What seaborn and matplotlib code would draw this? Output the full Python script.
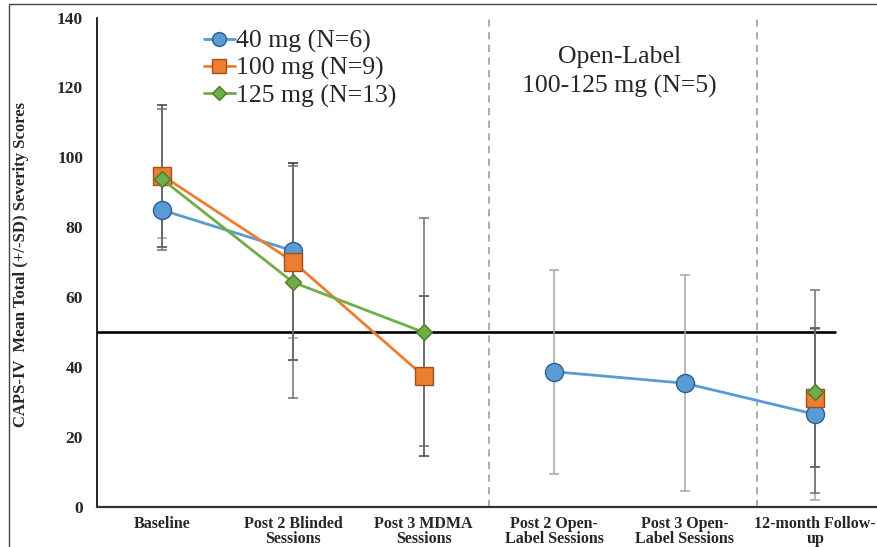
import numpy as np
import pandas as pd
import matplotlib
matplotlib.use("Agg")
import matplotlib.pyplot as plt
from matplotlib.lines import Line2D
from matplotlib.patches import Rectangle
import seaborn as sns

# Visits along the x axis
visits = ["Baseline", "Post 2 Blinded\nSessions", "Post 3 MDMA\nSessions",
          "Post 2 Open-\nLabel Sessions", "Post 3 Open-\nLabel Sessions",
          "12-month Follow-\nup"]

# CAPS-IV means and SDs per dose group (nan = not measured)
mean_40 = [84.9, 73.3, np.nan, 38.7, 35.4, 26.5]
sd_40 = [8.0, 25.0, np.nan, 29.2, 30.9, 24.5]
mean_100 = [94.8, 70.2, 37.5, np.nan, np.nan, 31.3]
sd_100 = [20.3, 28.2, 22.8, np.nan, np.nan, 20.0]
mean_125 = [93.7, 64.3, 50.0, np.nan, np.nan, 33.0]
sd_125 = [20.2, 33.2, 32.6, np.nan, np.nan, 29.0]

dose_labels = ["40 mg (N=6)", "100 mg (N=9)", "125 mg (N=13)"]
threshold = 50
open_label_text = "Open-Label\n100-125 mg (N=5)"

# styles
colors = ["#5b9bd5", "#ed7d31", "#70ad47"]
edges = ["#2f5f8f", "#a0501c", "#4a7a2c"]
err_colors = ["#a6a6a6", "#404040", "#707070"]
markers = ["o", "s", "D"]
msizes = [13, 13, 8.5]
leg_msizes = [10, 9.5, 7]

sns.set_style("white")
plt.rcParams["font.family"] = ["Liberation Serif", "DejaVu Serif"]

rows = []
for lab, means, sds in zip(dose_labels, [mean_40, mean_100, mean_125], [sd_40, sd_100, sd_125]):
    seg = 0
    for i, (m, s) in enumerate(zip(means, sds)):
        if np.isnan(m):
            seg += 1
            continue
        rows.append({"dose": lab, "x": i, "score": m, "sd": s, "seg": seg})
df = pd.DataFrame(rows)

fig = plt.figure(figsize=(8.78, 5.47), dpi=100)
ax = fig.add_axes([97 / 878, 40 / 547, 781 / 878, 489.5 / 547])

# dashed separators
for xv in [2.5, 4.55]:
    ax.axvline(xv, color="#a6a6a6", linestyle=(0, (4, 3)), lw=1.3, zorder=1)

# threshold line
ax.axhline(threshold, xmin=0, xmax=0.945, color="black", lw=1.9, zorder=2)

for k, lab in enumerate(dose_labels):
    d = df[df["dose"] == lab]
    ax.errorbar(d["x"], d["score"], yerr=d["sd"], fmt="none", ecolor=err_colors[k],
                elinewidth=1.1, capsize=3.6, capthick=1.1, zorder=2.5)
    sns.lineplot(data=d, x="x", y="score", units="seg", estimator=None, ax=ax,
                 color=colors[k], marker=markers[k], markersize=msizes[k],
                 markeredgecolor=edges[k], markeredgewidth=1.0, linewidth=2,
                 legend=False, zorder=3)

ax.set_xlim(-0.5, 5.48)
ax.set_ylim(0, 140)
ax.set_yticks(np.arange(0, 141, 20))
ax.set_xticks(range(len(visits)))
ax.set_xticklabels(visits, fontweight="bold", fontsize=11.5, linespacing=0.9)
for t in ax.get_yticklabels():
    t.set_fontweight("bold")
    t.set_fontsize(12.5)
ax.tick_params(axis="both", length=0)
ax.tick_params(axis="y", pad=10)
ax.tick_params(axis="x", pad=6.5)
ax.set_xlabel("")
ax.set_ylabel("CAPS-IV  Mean Total (+/-SD) Severity Scores", fontsize=12,
              fontweight="bold")
ax.yaxis.set_label_coords(-0.087, 0.495)

for side in ["top", "right"]:
    ax.spines[side].set_visible(False)
ax.spines["left"].set_color("black")
ax.spines["left"].set_linewidth(1.2)
ax.spines["bottom"].set_color("#333333")
ax.spines["bottom"].set_linewidth(1.6)

ax.text(3.5, 124.4, open_label_text, ha="center", va="center", fontsize=18.5,
        linespacing=1.43)

handles = [Line2D([], [], color=colors[k], marker=markers[k], markersize=leg_msizes[k],
                  markeredgecolor=edges[k], markeredgewidth=1.0, lw=2)
           for k in range(3)]
ax.legend(handles, dose_labels, loc="upper left", bbox_to_anchor=(0.137, 0.975),
          frameon=False, fontsize=18.5, handlelength=1.2, handletextpad=0.05,
          labelspacing=0.15, borderpad=0, borderaxespad=0)

# thin frame around the picture (left and top edges visible)
fig.add_artist(Rectangle((8.5 / 878, -0.05), 1.2, 1.05 - 4 / 547, transform=fig.transFigure,
                         fill=False, edgecolor="#444444", lw=1.0))

fig.savefig("out.png", dpi=100)
